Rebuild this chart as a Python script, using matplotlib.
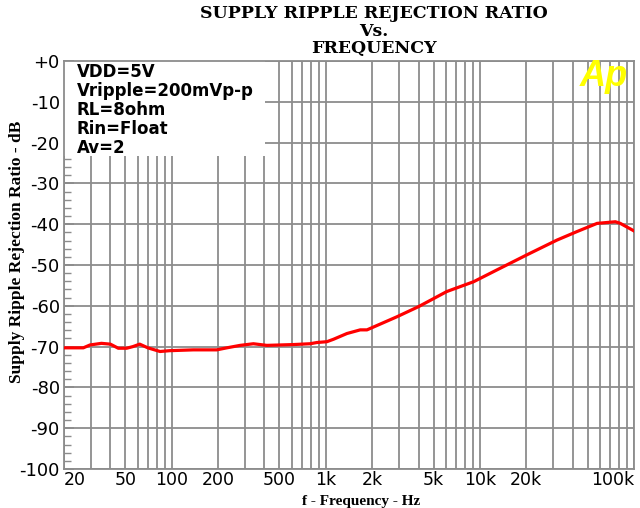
import numpy as np
import matplotlib
matplotlib.use("Agg")
import matplotlib.pyplot as plt
from matplotlib.patches import Rectangle
from matplotlib.ticker import FixedLocator, MultipleLocator, NullFormatter

# ---- data ----
freq_hz = [20, 26.7, 29.5, 35, 40, 45, 51, 56, 62, 70, 84, 97, 138, 196, 228,
           278, 339, 414, 617, 791, 875, 1016, 1122, 1370, 1672, 1850, 2890,
           4000, 6100, 9100, 12900, 20200, 31600, 42700, 57600, 75700, 81500, 99500]
srrr_db = [-70.3, -70.3, -69.6, -69.2, -69.4, -70.4, -70.4, -70.0, -69.4, -70.3,
           -71.2, -71.0, -70.8, -70.8, -70.3, -69.7, -69.3, -69.7, -69.5, -69.3,
           -69.0, -68.8, -68.2, -66.8, -65.9, -65.9, -62.7, -60.2, -56.5, -54.1,
           -51.2, -47.5, -43.9, -41.8, -39.8, -39.4, -39.8, -41.6]

x_tick_vals = [20, 50, 100, 200, 500, 1000, 2000, 5000, 10000, 20000, 100000]
x_tick_labels = ["20", "50", "100", "200", "500", "1k", "2k", "5k", "10k", "20k", "100k"]
y_tick_vals = [0, -10, -20, -30, -40, -50, -60, -70, -80, -90, -100]
y_tick_labels = ["+0", "-10", "-20", "-30", "-40", "-50", "-60", "-70", "-80", "-90", "-100"]
conditions = ["VDD=5V", "Vripple=200mVp-p", "RL=8ohm", "Rin=Float", "Av=2"]

title_lines = ["SUPPLY RIPPLE REJECTION RATIO", "Vs.", "FREQUENCY"]

# ---- figure ----
W, H = 640, 508
fig = plt.figure(figsize=(W / 100, H / 100), dpi=100)
fig.patch.set_facecolor("white")
ax = fig.add_axes([64 / W, 1 - 469 / H, 570 / W, 408 / H])

grid_c = "#8c8c8c"
ax.set_xscale("log")
ax.set_xlim(20, 100000)
ax.set_ylim(-100, 0)

# vertical grid at every 1..9 x decade
vgrid = []
for dec in [10, 100, 1000, 10000]:
    for m in range(1, 10):
        v = m * dec
        if 20 < v < 100000:
            vgrid.append(v)
ax.xaxis.set_major_locator(FixedLocator(x_tick_vals))
ax.xaxis.set_minor_locator(FixedLocator([v for v in vgrid if v not in x_tick_vals]))
ax.xaxis.set_minor_formatter(NullFormatter())
ax.set_xticklabels(x_tick_labels)
ax.set_yticks(y_tick_vals)
ax.set_yticklabels(y_tick_labels)
ax.yaxis.set_minor_locator(MultipleLocator(2))

ax.grid(True, which="both", axis="x", color=grid_c, lw=1.3)
ax.grid(True, which="major", axis="y", color=grid_c, lw=1.3)
ax.set_axisbelow(True)

ax.tick_params(axis="x", which="both", length=0, pad=1.5, labelsize=12.5)
ax.tick_params(axis="y", which="major", direction="in", length=7, width=1.2,
               color=grid_c, pad=3, labelsize=13)
ax.tick_params(axis="y", which="minor", direction="in", length=5, width=1.0,
               color=grid_c)
for lab in ax.get_xticklabels():
    lab.set_fontfamily("DejaVu Sans")
for lab in ax.get_yticklabels():
    lab.set_fontfamily("DejaVu Sans")
xl = ax.get_xticklabels()
xl[0].set_horizontalalignment("left")
xl[-1].set_horizontalalignment("right")

for s in ax.spines.values():
    s.set_color(grid_c)
    s.set_linewidth(1.3)

# white box hiding grid behind the conditions text
ax.add_patch(Rectangle((0, (469 - 156) / 408), (265 - 64) / 570, 1 - (469 - 156) / 408,
                       transform=ax.transAxes, facecolor="white", edgecolor="none",
                       zorder=1))

ax.plot(freq_hz, srrr_db, color="#ff0000", lw=2.3, zorder=3)

# conditions text
ys = [72, 91, 110, 129, 148]
for t, yy in zip(conditions, ys):
    fig.text(77 / W, 1 - yy / H, t, ha="left", va="center", fontsize=12,
             fontweight="bold", family="DejaVu Sans")

# Ap logo
fig.text(604 / W, 1 - 77 / H, "Ap", ha="center", va="center", fontsize=26,
         fontweight="bold", fontstyle="italic", color="#ffff00",
         family="Liberation Sans")

# titles
for t, yy in zip(title_lines, [14, 31, 48]):
    fig.text(374 / W, 1 - yy / H, t, ha="center", va="center", fontsize=12.5,
             fontweight="bold", family="DejaVu Serif")

fig.text(17 / W, 1 - 252 / H, "Supply Ripple Rejection Ratio - dB", rotation=90,
         ha="center", va="center", fontsize=12.5, fontweight="bold",
         family="Liberation Serif")
fig.text(361 / W, 0.5 / H, "f - Frequency - Hz", ha="center", va="bottom",
         fontsize=11, fontweight="bold", family="Liberation Serif")

fig.savefig("out.png", dpi=100, facecolor="white")
